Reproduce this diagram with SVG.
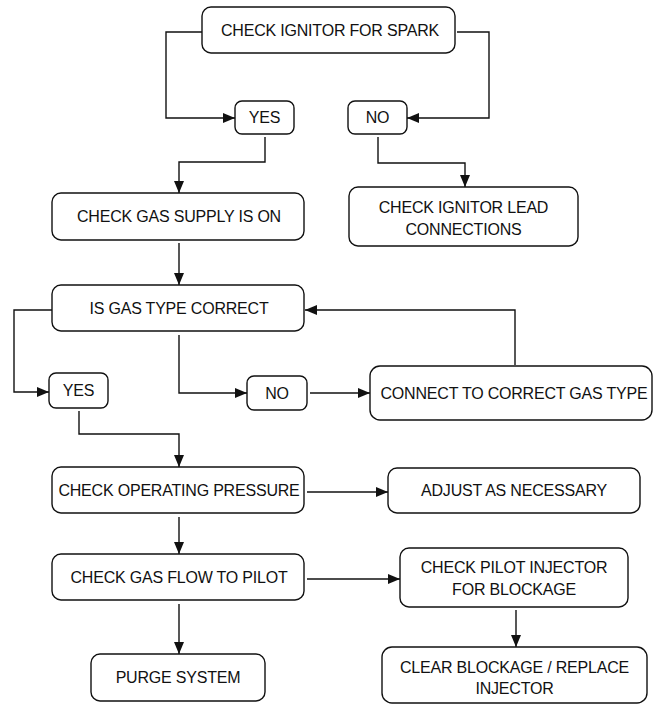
<svg xmlns="http://www.w3.org/2000/svg" width="654" height="706" viewBox="0 0 654 706">
<style>
.box{fill:#fff;stroke:#111;stroke-width:1.4}
.t{font-family:"Liberation Sans",Arial,sans-serif;font-size:16px;letter-spacing:-0.2px;fill:#111;text-anchor:middle}
.c{fill:none;stroke:#111;stroke-width:1.4}
</style>
<defs>
<marker id="ah" viewBox="0 0 12 10" refX="12" refY="5" markerWidth="12" markerHeight="10" markerUnits="userSpaceOnUse" orient="auto">
<path d="M0,0 L12,5 L0,10 z" fill="#111"/>
</marker>
</defs>
<rect width="654" height="706" fill="#fff"/>
<g id="connectors">
<path class="c" d="M202,32 H166 V118 H235" marker-end="url(#ah)"/>
<path class="c" d="M457,32 H489 V118 H407" marker-end="url(#ah)"/>
<path class="c" d="M265,137 V162 H179 V193" marker-end="url(#ah)"/>
<path class="c" d="M378,137 V163 H465 V187" marker-end="url(#ah)"/>
<path class="c" d="M179,243 V285" marker-end="url(#ah)"/>
<path class="c" d="M515,365 V310 H305" marker-end="url(#ah)"/>
<path class="c" d="M52,310 H14 V392 H49" marker-end="url(#ah)"/>
<path class="c" d="M179,335 V393 H247" marker-end="url(#ah)"/>
<path class="c" d="M310,393 H370" marker-end="url(#ah)"/>
<path class="c" d="M79,411 V434 H179 V467" marker-end="url(#ah)"/>
<path class="c" d="M307,492 H388" marker-end="url(#ah)"/>
<path class="c" d="M179,517 V554" marker-end="url(#ah)"/>
<path class="c" d="M307,579 H400" marker-end="url(#ah)"/>
<path class="c" d="M516,610 V647" marker-end="url(#ah)"/>
<path class="c" d="M179,604 V654" marker-end="url(#ah)"/>
</g>
<g id="n_spark"><rect class="box" x="202" y="7" width="253" height="46" rx="9"/><text class="t" x="330" y="36">CHECK IGNITOR FOR SPARK</text></g>
<g id="n_yes1"><rect class="box" x="235" y="101" width="59" height="33" rx="7"/><text class="t" x="264.5" y="123">YES</text></g>
<g id="n_no1"><rect class="box" x="348" y="101" width="59" height="33" rx="7"/><text class="t" x="377.5" y="123">NO</text></g>
<g id="n_supply"><rect class="box" x="52" y="193" width="252" height="47" rx="9"/><text class="t" x="179" y="222">CHECK GAS SUPPLY IS ON</text></g>
<g id="n_lead"><rect class="box" x="349" y="187" width="229" height="59" rx="9"/><text class="t" x="463.5" y="213">CHECK IGNITOR LEAD</text><text class="t" x="463.5" y="235">CONNECTIONS</text></g>
<g id="n_type"><rect class="box" x="52" y="285" width="252" height="46" rx="9"/><text class="t" x="179" y="314">IS GAS TYPE CORRECT</text></g>
<g id="n_yes2"><rect class="box" x="49" y="373" width="59" height="35" rx="7"/><text class="t" x="78.5" y="396">YES</text></g>
<g id="n_no2"><rect class="box" x="247" y="376" width="60" height="34" rx="7"/><text class="t" x="277" y="399">NO</text></g>
<g id="n_connect"><rect class="box" x="370" y="366" width="282" height="54" rx="10"/><text class="t" x="514" y="399">CONNECT TO CORRECT GAS TYPE</text></g>
<g id="n_pressure"><rect class="box" x="52" y="467" width="252" height="46" rx="9"/><text class="t" x="179" y="496">CHECK OPERATING PRESSURE</text></g>
<g id="n_adjust"><rect class="box" x="388" y="468" width="252" height="45" rx="9"/><text class="t" x="514" y="496">ADJUST AS NECESSARY</text></g>
<g id="n_flow"><rect class="box" x="52" y="554" width="252" height="46" rx="9"/><text class="t" x="179" y="583">CHECK GAS FLOW TO PILOT</text></g>
<g id="n_pilot"><rect class="box" x="400" y="548" width="228" height="59" rx="9"/><text class="t" x="514" y="573">CHECK PILOT INJECTOR</text><text class="t" x="514" y="595">FOR BLOCKAGE</text></g>
<g id="n_purge"><rect class="box" x="91" y="654" width="174" height="47" rx="9"/><text class="t" x="178" y="683">PURGE SYSTEM</text></g>
<g id="n_clear"><rect class="box" x="382" y="647" width="265" height="56" rx="10"/><text class="t" x="514.5" y="673">CLEAR BLOCKAGE / REPLACE</text><text class="t" x="514.5" y="694">INJECTOR</text></g>
</svg>
